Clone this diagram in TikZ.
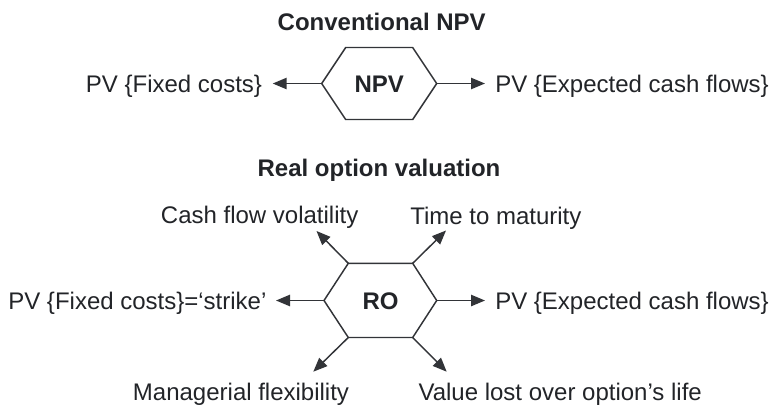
\documentclass[tikz,border=0pt]{standalone}
\usepackage{fontspec}
\setmainfont{Liberation Sans}
\usetikzlibrary{arrows.meta}
\definecolor{ink}{RGB}{34,36,40}
\definecolor{edge}{RGB}{50,52,56}
\tikzset{
  lbl/.style={inner sep=0pt, text=ink, font=\fontsize{18pt}{21pt}\selectfont},
  ttl/.style={lbl, font=\fontsize{18pt}{21pt}\selectfont\bfseries},
  hexline/.style={draw=edge, line width=1.1pt, line join=miter},
  arr/.style={draw=edge, line width=1.1pt, -{Triangle[length=10.5pt,width=8.5pt]}}
}
\begin{document}
\begin{tikzpicture}[x=0.75pt,y=-0.75pt]
\useasboundingbox (0,0) rectangle (774,405);
% ---------- Conventional NPV ----------
\node[ttl, anchor=base] (t1) at (381.7,30) {Conventional NPV};
\coordinate (nL)  at (321.7,83.5);
\coordinate (nTL) at (345.7,47.5);
\coordinate (nTR) at (412.7,47.5);
\coordinate (nR)  at (436.7,83.5);
\coordinate (nBR) at (412.7,119.5);
\coordinate (nBL) at (345.7,119.5);
\draw[hexline] (nL) -- (nTL) -- (nTR) -- (nR) -- (nBR) -- (nBL) -- cycle;
\node[ttl, anchor=base] (npv) at (379.2,92.8) {NPV};
\node[lbl, anchor=base east] (nfix) at (262.3,92.8) {PV \{Fixed costs\}};
\node[lbl, anchor=base west] (nexp) at (495,92.8) {PV \{Expected cash flows\}};
\coordinate (nLt) at (272.7,83.5);
\coordinate (nRt) at (485,83.5);
\draw[arr] (nL) -- (nLt);
\draw[arr] (nR) -- (nRt);
% ---------- Real option valuation ----------
\node[ttl, anchor=base] (t2) at (379,176.7) {Real option valuation};
\coordinate (rL)  at (324,300.5);
\coordinate (rTL) at (348.3,263.3);
\coordinate (rTR) at (412.7,263.3);
\coordinate (rR)  at (436.7,300.5);
\coordinate (rBR) at (412.7,337.5);
\coordinate (rBL) at (348.3,337.5);
\draw[hexline] (rL) -- (rTL) -- (rTR) -- (rR) -- (rBR) -- (rBL) -- cycle;
\node[ttl, anchor=base] (ro) at (380.5,309.8) {RO};
\node[lbl, anchor=base east] (rfix) at (266.7,309.8) {PV \{Fixed costs\}=‘strike’};
\node[lbl, anchor=base west] (rexp) at (495,309.8) {PV \{Expected cash flows\}};
\node[lbl, anchor=base west] (vol) at (160.7,223.8) {Cash flow volatility};
\node[lbl, anchor=base west] (mat) at (410,224.5) {Time to maturity};
\node[lbl, anchor=base west] (man) at (132.7,400) {Managerial flexibility};
\node[lbl, anchor=base west] (val) at (418.3,400) {Value lost over option’s life};
\coordinate (rLt)  at (276,300.5);
\coordinate (rRt)  at (485,300.5);
\coordinate (rTLt) at (316.5,231);
\coordinate (rTRt) at (446,230.5);
\coordinate (rBLt) at (313.3,371.7);
\coordinate (rBRt) at (446.7,371.7);
\draw[arr] (rL) -- (rLt);
\draw[arr] (rR) -- (rRt);
\draw[arr] (rTL) -- (rTLt);
\draw[arr] (rTR) -- (rTRt);
\draw[arr] (rBL) -- (rBLt);
\draw[arr] (rBR) -- (rBRt);
\end{tikzpicture}
\end{document}
